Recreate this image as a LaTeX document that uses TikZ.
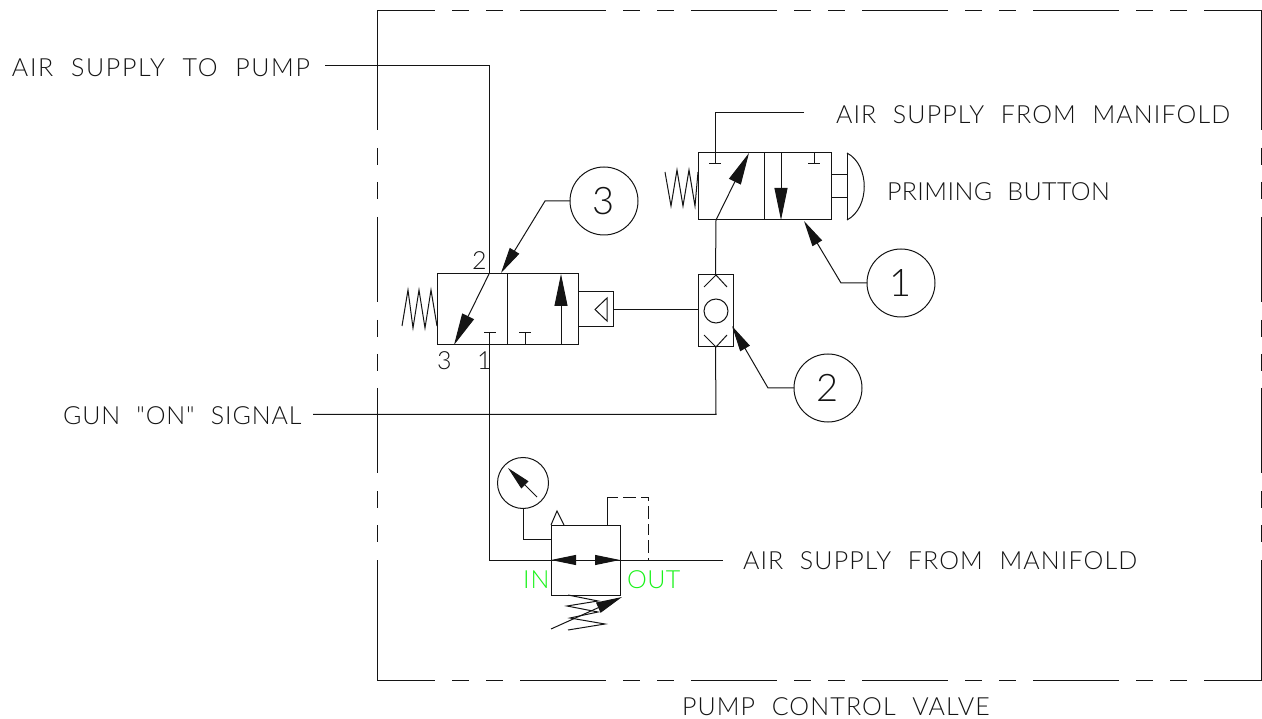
\documentclass[tikz,border=0pt]{standalone}
\usepackage{fontspec}
\usepackage{xcolor}
\usetikzlibrary{arrows.meta}
\newfontfamily\cadfont[UprightFont=* Light,LetterSpace=4.5,WordSpace=2.1]{Lato}
\newcommand{\cadsize}[1]{\cadfont\fontsize{#1}{#1}\selectfont}
\definecolor{ink}{rgb}{0.08, 0.08, 0.08}
\definecolor{sig}{rgb}{0.10, 0.95, 0.10}
\tikzset{
    every node/.style={inner sep=0,outer sep=0,text=ink},
    lbl/.style={anchor=west,font=\cadsize{25}},
    port/.style={anchor=west,font=\cadsize{25}},
    ball/.style={draw,circle,minimum size=68pt,font=\cadsize{38}},
    body/.style={draw,rectangle},
    longhead/.style={-{Triangle[length=32pt,width=13pt]}},
    leadhead/.style={-{Triangle[length=26pt,width=11pt]}},
    reghead/.style={-{Triangle[length=25pt,width=10pt]}}
}
\begin{document}
\begin{tikzpicture}[x=1pt,y=-1pt,draw=ink,line width=1pt]
        \useasboundingbox (0,0) rectangle (1262,719);
        % frame
        \foreach \a/\b in {377/435,452/469,486/503,520/606,623/640,657/674,691/777,794/811,828/845,862/948,965/982,999/1016,1033/1119,1136/1153,1170/1187,1204/1262}{
            \draw (\a,11) -- (\b,11);
            \draw (\a,680) -- (\b,680);
        }
        \foreach \a/\b in {11/130,148/165,182/199,217/302,320/337,354/371,388/473,491/508,525/542,560/680}{
            \draw (377,\a) -- (377,\b);
            \draw (1261.5,\a) -- (1261.5,\b);
        }
        % bodies
        \node[body,minimum width=141pt,minimum height=71pt] (vthree) at (507.5,309.5) {};
        \node[body,minimum width=133pt,minimum height=67pt] (vone) at (764.5,186.5) {};
        \node[body,minimum width=35pt,minimum height=72pt] (shuttle) at (715.5,311) {};
        \node[body,minimum width=69pt,minimum height=70pt] (reg) at (585.5,560) {};
        \node[body,minimum width=35pt,minimum height=35pt,anchor=west] (sol) at (vthree.east) {};
        \node[draw,circle,minimum size=24pt] (ballcheck) at (716,311) {};
        \node[draw,circle,minimum size=51pt] (gauge) at (523,483) {};
        \draw (507,274) -- (507,345);
        \draw (764,153) -- (764,220);
        % labels
        \node[lbl,font=\cadsize{25}\addfontfeature{LetterSpace=6.6}] (lblpump) at (12,67.5) {AIR SUPPLY TO PUMP};
        \node[lbl] (lblman) at (836,115) {AIR SUPPLY FROM MANIFOLD};
        \node[lbl,font=\cadsize{25}\addfontfeature{LetterSpace=1.7}] (lblprime) at (887,192) {PRIMING BUTTON};
        \node[lbl,font=\cadsize{25}\addfontfeature{LetterSpace=3.6}] (lblgun) at (63,415.5) {GUN "ON" SIGNAL};
        \node[lbl] (lblreg) at (743,561) {AIR SUPPLY FROM MANIFOLD};
        \node[lbl] (lblvalve) at (682,707) {PUMP CONTROL VALVE};
        \node[port] (ptwo) at (472,261) {2};
        \node[port] (pthree) at (437,361) {3};
        \node[port] (pone) at (477,361) {1};
        \node[lbl,text=sig] (lblin) at (523,580) {IN};
        \node[lbl,text=sig,font=\cadsize{25}\addfontfeature{LetterSpace=2}] (lblout) at (627,580) {OUT};
        \node[ball] (bone) at (901,283) {1};
        \node[ball] (btwo) at (828,388) {2};
        \node[ball] (bthree) at (604,201) {3};
        % lines
        \coordinate (pumpend) at (325,66);
        \coordinate (gunend) at (313,414.5);
        \coordinate (vthreetop) at (489,274);
        \coordinate (manend) at (804,113);
        \coordinate (regend) at (723,560);
        \coordinate (voneport) at (716,220);
        \draw (pumpend) -- (489,66) -- (vthreetop);
        \draw[longhead] (vthreetop) -- (454,345);
        \draw (manend) -- (715,113) -- (715,164);
        \draw (709,164) -- (721,164);
        \draw[longhead] (voneport) -- (749,153);
        \draw[longhead] (781,153) -- (781,220);
        \draw (814,153) -- (814,164);
        \draw (808,164) -- (820,164);
        \draw (shuttle.north) -- (voneport);
        \draw (sol.east) -- (sol.east -| shuttle.west);
        \draw (gunend) -- (716,414.5) -- (shuttle.south);
        \draw (484,333) -- (496,333);
        \draw (489,333) -- (489,560) -- (regend);
        \draw (519,333) -- (531,333);
        \draw (525,333) -- (525,345);
        \draw[longhead] (561,345) -- (561,274);
        % shuttle and solenoid
        \draw (704,287) -- (716,275) -- (727,287);
        \draw (704,335) -- (716,347) -- (727,335);
        \draw (607,298) -- (595,309.5) -- (607,321) -- cycle;
        % button
        \draw (831,175) -- (847,175);
        \draw (831,198) -- (847,198);
        \draw (847,153) -- (847,220);
        \draw (847,153) .. controls (870,165) and (870,208) .. (847,220);
        % springs
        \draw (665,172) -- (671,206) -- (677,170) -- (683,206) -- (689,170) -- (695,206) -- (698,172);
        \draw (402,326) -- (408,290) -- (413,328) -- (419,290) -- (425,328) -- (431,290) -- (437,326);
        \draw (568,595) -- (598,601) -- (567,606) -- (598,612) -- (570,618) -- (605,624) -- (568,630);
        \draw[leadhead] (551,629) -- (622,597);
        % regulator
        \draw[reghead] (560,560) -- (reg.west);
        \draw[reghead] (560,560) -- (reg.east);
        \draw (551,525) -- (557,511) -- (564,525);
        \draw (607,525) -- (607,497);
        \draw[dash pattern=on 11pt off 5pt on 13pt off 5pt] (607,497) -- (648,497) -- (648,560);
        \draw (gauge.south) -- (523,539) -- (551,539);
        \draw[-{Triangle[length=24pt,width=10pt]}] (537,497) -- (508,468);
        % leaders
        \draw[leadhead] (bthree.west) -- (545,201) -- (501,273);
        \draw[leadhead] (bone.west) -- (841,283) -- (804,221);
        \draw[leadhead] (btwo.west) -- (768,388) -- (732,326);
    \end{tikzpicture}
\end{document}
